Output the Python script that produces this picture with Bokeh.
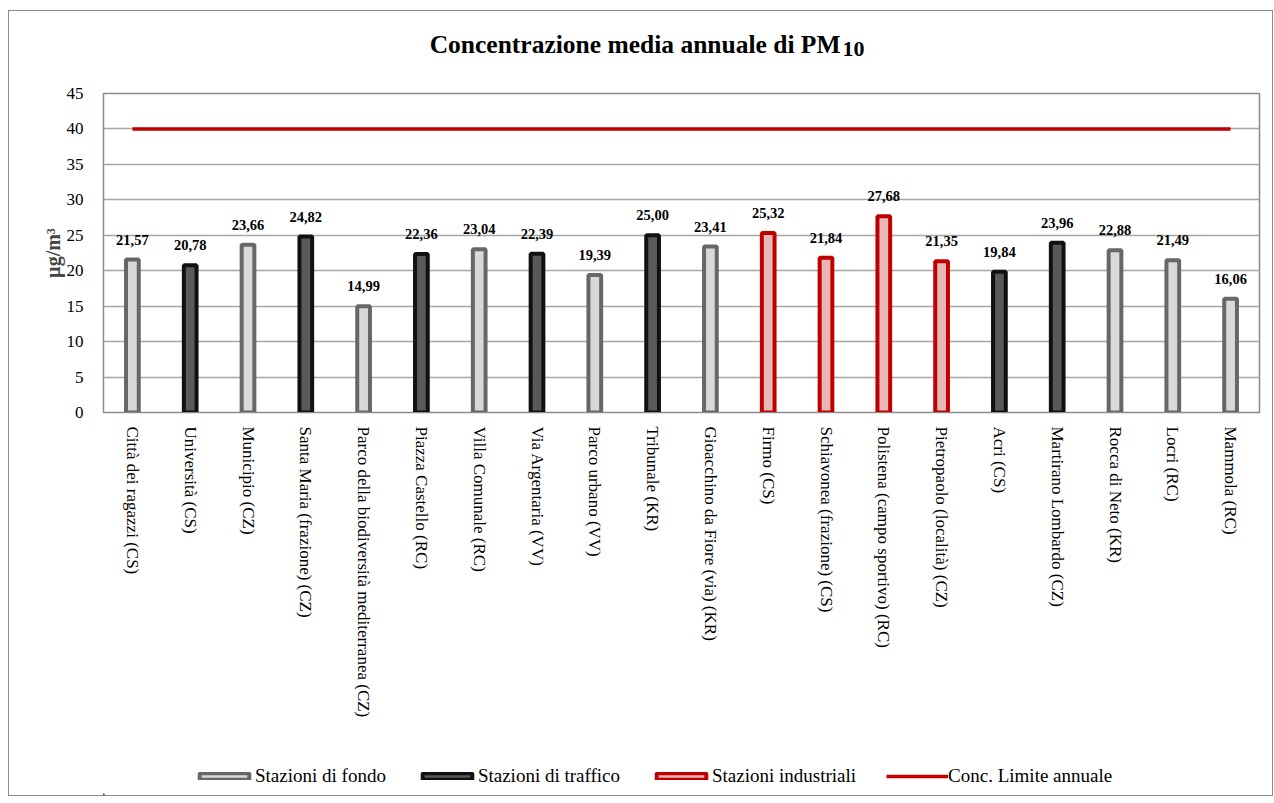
from bokeh.plotting import figure
from bokeh.layouts import column
from bokeh.models import (ColumnDataSource, FactorRange, FixedTicker,
                          Legend, LegendItem)
from bokeh.core.properties import value
from bokeh.embed import file_html
from bokeh.resources import INLINE

# ---------------- data ----------------
stations = ["Città dei ragazzi (CS)", "Università (CS)", "Municipio (CZ)",
            "Santa Maria (frazione) (CZ)", "Parco della biodiversità mediterranea (CZ)",
            "Piazza Castello (RC)", "Villa Comunale (RC)", "Via Argentaria (VV)",
            "Parco urbano (VV)", "Tribunale (KR)", "Gioacchino da Fiore (via) (KR)",
            "Firmo (CS)", "Schiavonea (frazione) (CS)", "Polistena (campo sportivo) (RC)",
            "Pietropaolo (località) (CZ)", "Acri (CS)", "Martirano Lombardo (CZ)",
            "Rocca di Neto (KR)", "Locri (RC)", "Mammola (RC)"]
pm10 = [21.57, 20.78, 23.66, 24.82, 14.99, 22.36, 23.04, 22.39, 19.39, 25.00,
        23.41, 25.32, 21.84, 27.68, 21.35, 19.84, 23.96, 22.88, 21.49, 16.06]
station_type = ["fondo", "traffico", "fondo", "traffico", "fondo", "traffico",
                "fondo", "traffico", "fondo", "traffico", "fondo", "industriale",
                "industriale", "industriale", "industriale", "traffico", "traffico",
                "fondo", "fondo", "fondo"]
limit_value = 40
y_ticks = [0, 5, 10, 15, 20, 25, 30, 35, 40, 45]
type_order = ["fondo", "traffico", "industriale"]
legend_labels = {"fondo": "Stazioni di fondo", "traffico": "Stazioni di traffico",
                 "industriale": "Stazioni industriali"}
limit_label = "Conc. Limite annuale"
title_main = "Concentrazione media annuale di PM"
title_sub = "10"
y_label = "µg/m³"

# ---------------- styles ----------------
FONT = "Liberation Serif"
fills = {"fondo": "#d9d9d9", "traffico": "#595959", "industriale": "#e6b9b8"}
lines = {"fondo": "#676767", "traffico": "#111111", "industriale": "#c00000"}
LIMIT_COLOR = "#c00000"
W = 1263


def blank_fig(h):
    f = figure(x_range=(0, W), y_range=(0, h), frame_width=W, frame_height=h,
               min_border=0, x_axis_type=None, y_axis_type=None,
               output_backend="svg", toolbar_location=None, tools="")
    f.outline_line_color = None
    f.xgrid.visible = False
    f.ygrid.visible = False
    return f


# ---------------- title strip ----------------
TH = 72
tfig = blank_fig(TH)
tfig.text(x=[737], y=[39], text=[title_main], text_align="right",
          text_baseline="alphabetic", text_font=value(FONT),
          text_font_style="bold", text_font_size="25.5px", text_color="black")
tfig.text(x=[739], y=[35], text=[title_sub], text_align="left",
          text_baseline="alphabetic", text_font=value(FONT),
          text_font_style="bold", text_font_size="22px", text_color="black")

# ---------------- main chart ----------------
p = figure(x_range=FactorRange(*stations, range_padding=0), y_range=(0, 45),
           frame_width=1156, frame_height=319,
           min_border_left=94, min_border_top=10, min_border_right=13,
           min_border_bottom=330,
           output_backend="svg", toolbar_location=None, tools="")
p.outline_line_color = "#8c8c8c"
p.outline_line_width = 1.5

for t in type_order:
    xs = [s for s, k in zip(stations, station_type) if k == t]
    ys = [v for v, k in zip(pm10, station_type) if k == t]
    p.vbar(x=xs, top=ys, width=0.22, fill_color=fills[t], line_color=lines[t],
           line_width=4)

p.line(x=[stations[0], stations[-1]], y=[limit_value, limit_value],
       line_color=LIMIT_COLOR, line_width=3.5)

lab_src = ColumnDataSource(dict(x=stations, y=pm10,
                                t=[f"{v:.2f}".replace(".", ",") for v in pm10]))
p.text(x="x", y="y", text="t", source=lab_src, y_offset=-15,
       text_align="center", text_baseline="bottom",
       text_font=value(FONT), text_font_style="bold", text_font_size="14.5px",
       text_color="black")

p.yaxis.ticker = FixedTicker(ticks=y_ticks)
p.yaxis.axis_label = y_label
p.yaxis.axis_label_text_font = FONT
p.yaxis.axis_label_text_font_style = "bold"
p.yaxis.axis_label_text_font_size = "20px"
p.yaxis.axis_label_standoff = 0
for ax in (p.xaxis[0], p.yaxis[0]):
    ax.major_label_text_font = FONT
    ax.major_label_text_color = "black"
    ax.axis_line_color = "#8c8c8c"
    ax.major_tick_line_color = None
    ax.minor_tick_line_color = None
p.yaxis.major_label_text_font_size = "17px"
p.xaxis.major_label_text_font_size = "17px"
p.xaxis.major_label_orientation = "vertical"
p.xaxis.major_label_standoff = 8
p.yaxis.major_label_standoff = 14
p.xgrid.grid_line_color = None
p.ygrid.grid_line_color = "#a6a6a6"
p.ygrid.grid_line_width = 1.5

# ---------------- legend strip ----------------
LH = 784 - TH - (10 + 319 + 330)
lfig = blank_fig(LH)
HIDDEN = -1000  # legend proxies are placed outside the visible strip
items = []
for t in type_order:
    r = lfig.vbar(x=[HIDDEN], top=[HIDDEN], width=1, fill_color=fills[t],
                  line_color=lines[t], line_width=4)
    items.append(LegendItem(label=legend_labels[t], renderers=[r]))
rl = lfig.line(x=[HIDDEN, HIDDEN + 1], y=[HIDDEN, HIDDEN],
               line_color=LIMIT_COLOR, line_width=3.5)
items.append(LegendItem(label=limit_label, renderers=[rl]))
legend = Legend(items=items, orientation="horizontal", location=(184, 8),
                glyph_width=62, glyph_height=8, label_standoff=0, spacing=30,
                padding=0, margin=0, border_line_color=None,
                background_fill_alpha=0, label_text_font=FONT,
                label_text_font_size="19px", label_text_color="black")
lfig.add_layout(legend, "center")

layout = column(tfig, p, lfig, spacing=0,
                styles={"border": "1px solid #8c8c8c", "margin-left": "8px",
                        "margin-top": "10px"})

open("out.html", "w").write(file_html(layout, INLINE))
